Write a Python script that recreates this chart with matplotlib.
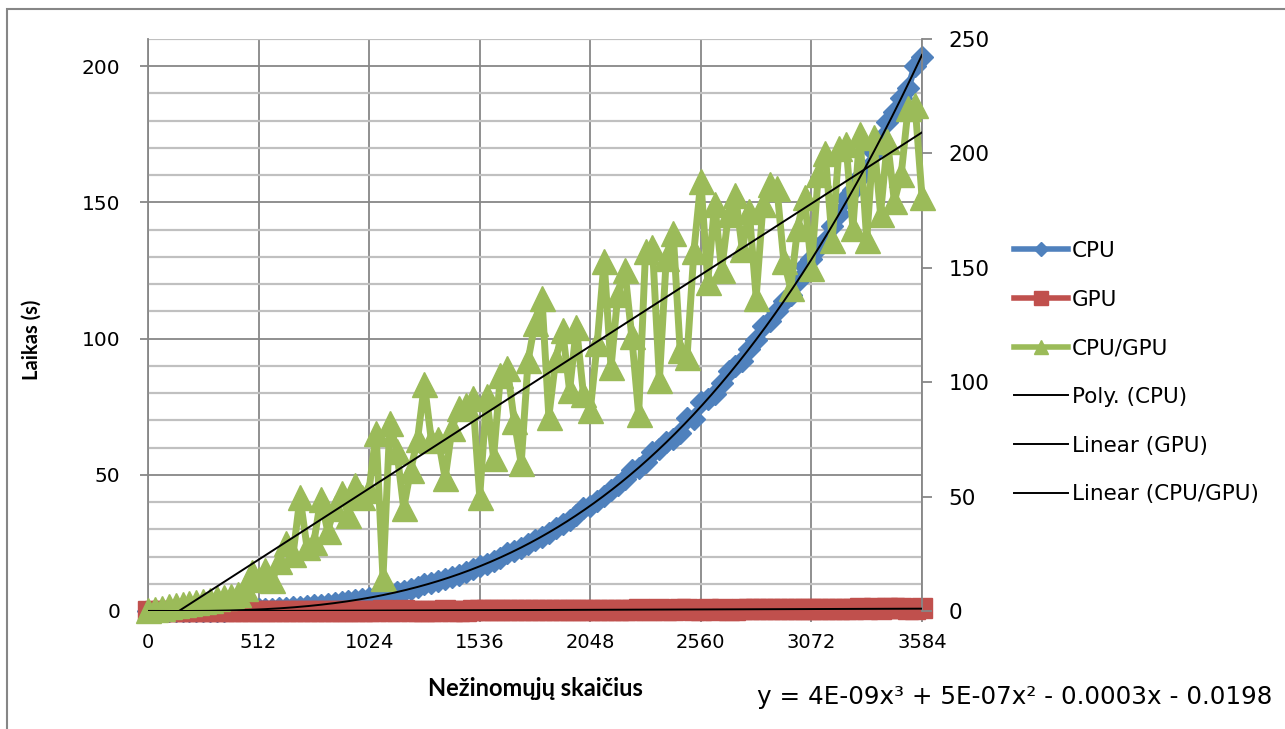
import numpy as np
import matplotlib
matplotlib.use("Agg")
import matplotlib.pyplot as plt
from matplotlib.lines import Line2D
from matplotlib.patches import Rectangle

# ---- data -----------------------------------------------------------------
unknowns = list(range(0, 3585, 32))

cpu_time = [
    0.00, 0.00, 0.00, 0.01, 0.01, 0.02, 0.03, 0.04, 0.05, 0.07,
    0.10, 0.15, 0.21, 0.28, 0.36, 0.45, 0.56, 0.68, 0.82, 0.98,
    1.15, 1.34, 1.55, 1.78, 2.02, 2.30, 2.59, 2.90, 3.24, 3.61,
    4.00, 4.42, 4.86, 5.33, 5.83, 6.37, 6.93, 7.52, 8.15, 8.81,
    9.80, 10.23, 10.99, 11.79, 12.63, 13.20, 14.43, 15.38, 16.38, 17.42,
    18.50, 19.63, 21.20, 22.01, 23.27, 24.58, 25.94, 27.00, 28.79, 30.30,
    31.85, 33.46, 35.12, 37.90, 38.60, 40.42, 42.30, 44.24, 46.23, 48.29,
    51.80, 52.58, 54.81, 58.50, 59.47, 61.89, 63.00, 65.40, 71.00, 70.60,
    76.80, 77.83, 79.50, 83.69, 88.20, 89.83, 91.60, 96.27, 99.61, 104.50,
    106.50, 110.06, 113.70, 116.00, 121.22, 126.60, 129.06, 133.10, 135.80, 141.44,
    145.74, 151.50, 154.60, 159.16, 162.40, 168.54, 173.36, 179.60, 183.29, 188.39,
    192.10, 200.20, 203.50,
]

gpu_time = [
    0.01, 0.01, 0.02, 0.02, 0.02, 0.03, 0.03, 0.03, 0.04, 0.04,
    0.04, 0.05, 0.05, 0.05, 0.06, 0.05, 0.07, 0.07, 0.08, 0.07,
    0.06, 0.08, 0.05, 0.09, 0.09, 0.07, 0.10, 0.09, 0.09, 0.11,
    0.10, 0.11, 0.12, 0.09, 0.50, 0.10, 0.12, 0.20, 0.16, 0.13,
    0.11, 0.15, 0.15, 0.20, 0.17, 0.17, 0.18, 0.19, 0.36, 0.21,
    0.31, 0.22, 0.23, 0.29, 0.40, 0.25, 0.23, 0.22, 0.37, 0.30,
    0.28, 0.37, 0.30, 0.40, 0.47, 0.37, 0.29, 0.44, 0.35, 0.35,
    0.44, 0.64, 0.35, 0.37, 0.61, 0.40, 0.39, 0.58, 0.62, 0.47,
    0.41, 0.56, 0.47, 0.58, 0.51, 0.49, 0.60, 0.56, 0.75, 0.59,
    0.58, 0.60, 0.77, 0.87, 0.76, 0.82, 0.90, 0.72, 0.72, 0.89,
    0.76, 0.75, 0.76, 0.95, 0.79, 1.04, 0.84, 1.03, 0.93, 1.13,
    0.88, 0.91, 1.12,
]

speedup = [
    0.5, 1.0, 1.5, 2.0, 2.5, 3.0, 3.5, 4.0, 4.5, 5.0,
    5.5, 6.0, 6.5, 7.5, 10.0, 17.0, 14.0, 18.0, 13.5, 22.0,
    29.7, 25.0, 49.7, 28.0, 30.0, 49.0, 35.0, 45.0, 51.5, 42.0,
    55.0, 50.0, 53.0, 78.0, 14.4, 82.0, 70.0, 45.0, 61.5, 75.0,
    99.0, 74.6, 75.0, 58.0, 80.0, 88.6, 90.0, 93.0, 50.0, 94.0,
    67.0, 103.0, 106.0, 83.0, 64.5, 109.5, 126.0, 137.0, 85.0, 110.0,
    122.6, 96.4, 124.0, 95.0, 87.7, 117.0, 153.0, 106.5, 138.7, 149.0,
    120.0, 86.0, 157.5, 159.0, 101.0, 154.5, 165.0, 114.0, 111.0, 157.5,
    188.0, 144.0, 178.0, 149.0, 173.6, 182.0, 158.0, 175.0, 137.0, 178.0,
    186.7, 185.0, 153.0, 141.0, 167.5, 181.0, 150.0, 191.0, 200.0, 162.0,
    202.5, 204.0, 167.5, 208.6, 162.0, 207.0, 173.6, 205.5, 179.0, 191.0,
    220.0, 221.0, 181.0,
]

x_ticks = [0, 512, 1024, 1536, 2048, 2560, 3072, 3584]
left_ticks = [0, 50, 100, 150, 200]
right_ticks = [0, 50, 100, 150, 200, 250]

series_names = ["CPU", "GPU", "CPU/GPU"]
trend_names = ["Poly. (CPU)", "Linear (GPU)", "Linear (CPU/GPU)"]
equation = "y = 4E-09x\u00b3 + 5E-07x\u00b2 - 0.0003x - 0.0198"

# ---- style ----------------------------------------------------------------
BLUE = "#4F81BD"
RED = "#C0504D"
GREEN = "#9BBB59"
GRID_DARK = "#878787"
GRID_LIGHT = "#C0C0C0"
FONT = "DejaVu Sans"
TITLE_FONT = "Lato"

W, H = 1285, 729
fig = plt.figure(figsize=(W / 100, H / 100), dpi=100)
fig.patch.set_facecolor("white")

x0, x1, y_top, y_bot = 148, 922, 39, 611
ax = fig.add_axes([x0 / W, 1 - y_bot / H, (x1 - x0) / W, (y_bot - y_top) / H])
ax.set_xlim(0, 3584)
ax.set_ylim(0, 210)

ax.set_xticks(x_ticks)
ax.set_yticks(left_ticks)
ax.set_yticks(list(range(0, 211, 10)), minor=True)
ax.set_xticklabels([str(t) for t in x_ticks], fontsize=14, family=FONT)
ax.set_yticklabels([str(t) for t in left_ticks], fontsize=14.5, family=FONT)

ax.grid(True, which="major", axis="x", color=GRID_DARK, lw=1.3)
ax.grid(True, which="minor", axis="y", color=GRID_LIGHT, lw=1.6)
ax.grid(True, which="major", axis="y", color=GRID_DARK, lw=1.3)
ax.set_axisbelow(True)

for side in ["top", "right"]:
    ax.spines[side].set_visible(False)
for side in ["left", "bottom"]:
    ax.spines[side].set_color(GRID_DARK)
    ax.spines[side].set_linewidth(1.3)

ax.tick_params(axis="x", which="major", length=8, width=1.3, color=GRID_DARK, pad=8)
ax.tick_params(axis="y", which="major", length=6, width=1.3, color=GRID_DARK, pad=14)
ax.tick_params(axis="y", which="minor", length=0)

# primary series
ax.plot(unknowns, cpu_time, color=BLUE, lw=5, marker="D", ms=11,
        mfc=BLUE, mec=BLUE, zorder=3, clip_on=False)
ax.plot(unknowns, gpu_time, color=RED, lw=5, marker="s", ms=15,
        mfc=RED, mec=RED, zorder=3, clip_on=False)

# secondary axis with the speed-up ratio
ax2 = ax.twinx()
ax2.set_ylim(0, 250)
ax2.set_yticks(right_ticks)
ax2.set_yticklabels([str(t) for t in right_ticks], fontsize=15.5, family=FONT)
for side in ["top", "left", "bottom"]:
    ax2.spines[side].set_visible(False)
ax2.spines["right"].set_color(GRID_DARK)
ax2.spines["right"].set_linewidth(1.3)
ax2.tick_params(axis="y", which="major", length=7, width=1.3, color=GRID_DARK, pad=12)

ax2.plot(unknowns, speedup, color=GREEN, lw=5, marker="^", ms=18,
         mfc=GREEN, mec=GREEN, zorder=3, clip_on=False)

# trend lines
xs = np.linspace(0, 3584, 600)
x_arr = np.array(unknowns, dtype=float)
cpu_fit = np.polyfit(x_arr, np.array(cpu_time), 3)
gpu_fit = np.polyfit(x_arr, np.array(gpu_time), 1)
ratio_fit = np.polyfit(x_arr, np.array(speedup), 1)
ax2.plot(xs, np.polyval(cpu_fit, xs), color="black", lw=1.4,
         transform=ax.transData, zorder=5)
ax2.plot(xs, np.polyval(gpu_fit, xs), color="black", lw=1.4,
         transform=ax.transData, zorder=5)
ax2.plot(xs, np.polyval(ratio_fit, xs), color="black", lw=1.4, zorder=5)

# axis titles and equation
fig.text(535 / W, 1 - 688 / H, "Nežinomųjų skaičius", ha="center", va="center",
         fontsize=17, fontweight="bold", family=TITLE_FONT)
fig.text(32 / W, 1 - 340 / H, "Laikas (s)", ha="center", va="center",
         rotation=90, fontsize=14.5, fontweight="bold", family=TITLE_FONT)
fig.text(757 / W, 1 - 697 / H, equation, ha="left", va="center",
         fontsize=17.7, family=FONT)

# legend
handles = [
    Line2D([], [], color=BLUE, lw=4, marker="D", ms=7.5),
    Line2D([], [], color=RED, lw=4, marker="s", ms=9.5),
    Line2D([], [], color=GREEN, lw=4, marker="^", ms=10),
    Line2D([], [], color="black", lw=1.4),
    Line2D([], [], color="black", lw=1.4),
    Line2D([], [], color="black", lw=1.4),
]
fig.legend(handles, series_names + trend_names, loc="upper left",
           bbox_to_anchor=(1014 / W, 1 - 241 / H), frameon=False,
           prop={"family": FONT, "size": 15.5}, handlelength=2.5,
           handletextpad=0.2, labelspacing=1.33, borderaxespad=0, borderpad=0)

# chart border
fig.patches.append(Rectangle((7 / W, -0.1), 1.2, 1.1 - 9 / H, transform=fig.transFigure,
                             fill=False, ec="#868686", lw=1.5))

fig.savefig("out.png", dpi=100)
